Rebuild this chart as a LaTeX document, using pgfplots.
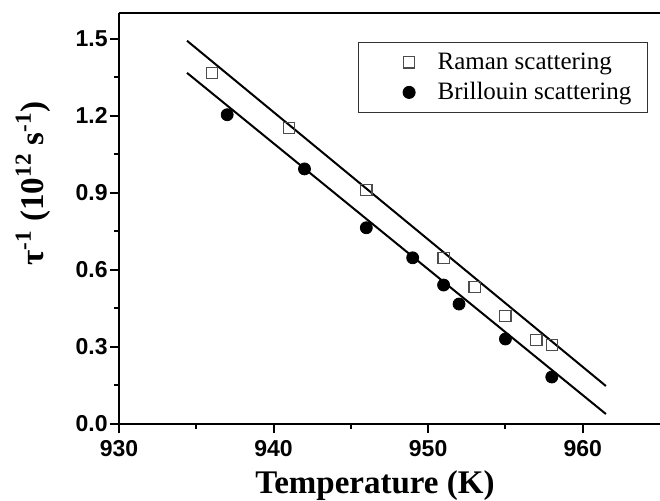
\documentclass[border=0pt]{standalone}
\usepackage{pgfplots}
\pgfplotsset{compat=1.18}
\usepackage{fontspec}
\setmainfont{Liberation Serif}
\newfontfamily\arialfont{Liberation Sans}
\begin{document}
\begin{tikzpicture}
\begin{axis}[
  scale only axis,
  width=270.5pt, height=205.5pt,
  xmin=930, xmax=965, ymin=0, ymax=1.6,
  axis x line=box, axis y line=left,
  axis line style={-, line width=1pt, black},
  xtick pos=bottom, ytick pos=left,
  xtick={930,940,950,960},
  ytick={0,0.3,0.6,0.9,1.2,1.5},
  minor tick num=1,
  tick align=outside,
  major tick length=4.5pt, minor tick length=2.5pt,
  every tick/.style={line width=1pt, black},
  /pgf/number format/assume math mode=true,
  tick label style={font=\arialfont\bfseries\fontsize{11.5}{11.5}\selectfont},
  yticklabel style={inner xsep=1pt, /pgf/number format/fixed, /pgf/number format/fixed zerofill, /pgf/number format/precision=1},
  xticklabel style={/pgf/number format/1000 sep={}},
  every axis x label/.style={at={(axis description cs:0.473,-0.168)}, anchor=base},
  every axis y label/.style={at={(axis description cs:-0.159,0.586)}, rotate=90, anchor=center},
  xlabel={\fontsize{16.5}{16.5}\selectfont\bfseries Temperature (K)},
  ylabel={\fontsize{16.5}{16.5}\selectfont\bfseries τ\textsuperscript{-1} (10\textsuperscript{12} s\textsuperscript{-1})},
  legend style={at={(0.442,0.929)}, anchor=north west, draw=black!80, line width=0.5pt,
    font=\fontsize{12.5}{14}\selectfont, cells={anchor=west}, inner ysep=3pt, row sep=1pt},
  legend image code/.code={\path (0pt,0pt) (34pt,0pt); \draw[mark repeat=1,#1] plot coordinates {(22pt,0pt)};},
  clip=false,
]
\addplot[only marks, mark=square, mark size=2.8pt, mark options={draw=black!70, line width=0.6pt}]
  coordinates {(936,1.367) (941,1.153) (946,0.911) (951,0.647) (953,0.534) (955,0.421) (957,0.327) (958,0.308)};
\addlegendentry{\makebox[100pt][l]{Raman scattering}}
\addplot[only marks, mark=*, mark size=3pt, mark options={fill=black, draw=black}]
  coordinates {(937,1.204) (942,0.993) (946,0.764) (949,0.647) (951,0.541) (952,0.467) (955,0.331) (958,0.183)};
\addlegendentry{\makebox[100pt][l]{Brillouin scattering}}
\addplot[forget plot, black, line width=1pt] coordinates {(934.4,1.492) (961.5,0.148)};
\addplot[forget plot, black, line width=1pt] coordinates {(934.4,1.367) (961.5,0.039)};
\end{axis}
\pgfresetboundingbox
\path[use as bounding box] (current axis.south west) ++(-59.5pt,-38pt) rectangle ++(330pt,250pt);
\end{tikzpicture}
\end{document}
